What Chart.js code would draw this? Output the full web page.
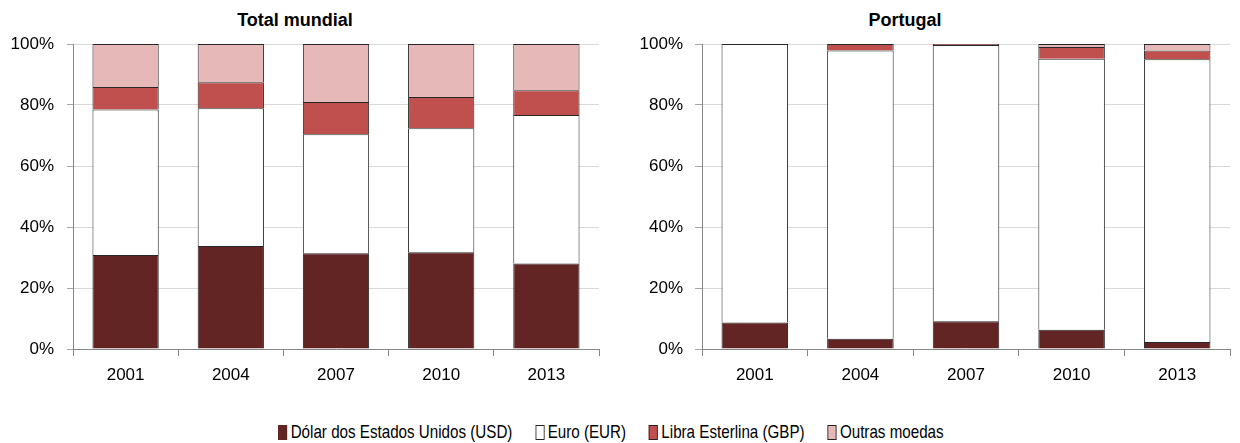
<!DOCTYPE html>
<html>
<head>
<meta charset="utf-8">
<script src="https://cdn.jsdelivr.net/npm/chart.js@4.4.1/dist/chart.umd.min.js"></script>
<style>
  body { margin: 0; background: #fff; }
  #wrap { position: relative; width: 1240px; height: 443px; background: #fff; overflow: hidden; }
  .box { position: absolute; top: 0; height: 400px; width: 620px; }
  .titulo { position: absolute; top: 10px; font: bold 18px 'Liberation Sans', Arial, sans-serif; color: #000; transform: translateX(-50%); white-space: nowrap; }
  #legenda { position: absolute; top: 421px; left: -9px; width: 1240px; display: flex; justify-content: center; font: 18.5px 'Liberation Sans', Arial, sans-serif; color: #000; transform: scaleX(0.82); transform-origin: 620px 50%; }
  #legenda span.item { display: flex; align-items: center; margin: 0 14px; white-space: nowrap; }
  #legenda i { display: inline-block; box-sizing: border-box; width: 11px; height: 15px; margin-right: 4px; border: 1.5px solid #222; }
</style>
</head>
<body>
<div id="wrap">
  <div class="titulo" style="left:295px">Total mundial</div>
  <div class="titulo" style="left:905px">Portugal</div>
  <div class="box" style="left:0"><canvas id="chartMundial"></canvas></div>
  <div class="box" style="left:620px"><canvas id="chartPortugal"></canvas></div>
  <div id="legenda"></div>
</div>
<script>
// Dados (percentagens)
const anos = ['2001', '2004', '2007', '2010', '2013'];
const ticksY = [0, 20, 40, 60, 80, 100];

const series = ['Dólar dos Estados Unidos (USD)', 'Euro (EUR)', 'Libra Esterlina (GBP)', 'Outras moedas'];
const cores = ['#632523', '#ffffff', '#c0504d', '#e6b9b8'];

// Total mundial
const mundialUSD = [30.8, 33.8, 31.4, 31.7, 28.0];
const mundialEUR = [47.7, 45.1, 39.0, 40.7, 48.7];
const mundialGBP = [7.4, 8.6, 10.6, 10.2, 8.1];
const mundialOutras = [14.1, 12.5, 19.0, 17.4, 15.2];

// Portugal
const portugalUSD = [8.7, 3.4, 9.1, 6.3, 2.3];
const portugalEUR = [91.3, 94.5, 90.6, 88.9, 92.7];
const portugalGBP = [0, 2.1, 0.3, 3.8, 2.9];
const portugalOutras = [0, 0, 0, 1.0, 2.1];

const fonte = "'Liberation Sans', Arial, sans-serif";

function criarGrafico(id, valores, larguraEixo, padDir, tickLen, padTick) {
    const ctx = document.getElementById(id).getContext('2d');
    return new Chart(ctx, {
        type: 'bar',
        data: {
            labels: anos,
            datasets: valores.map((v, i) => ({
                label: series[i],
                data: v,
                backgroundColor: cores[i],
                borderColor: '#262626',
                borderWidth: 1,
                barPercentage: 0.63,
                categoryPercentage: 1
            }))
        },
        options: {
            responsive: true,
            maintainAspectRatio: false,
            animation: false,
            layout: { padding: { top: 44, right: padDir, left: 0, bottom: 0 } },
            plugins: {
                legend: { display: false },
                tooltip: { enabled: false }
            },
            scales: {
                x: {
                    stacked: true,
                    afterFit: s => { s.height = 51; },
                    grid: { offset: true, drawOnChartArea: false, tickLength: 7, color: '#868686' },
                    border: { color: '#868686' },
                    ticks: { color: '#000', font: { family: fonte, size: 17 }, padding: 9 }
                },
                y: {
                    stacked: true,
                    min: 0,
                    max: 100,
                    afterFit: s => { s.width = larguraEixo; },
                    afterBuildTicks: s => { s.ticks = ticksY.map(v => ({ value: v })); },
                    grid: { color: '#d9d9d9', tickLength: tickLen, tickColor: '#a6a6a6' },
                    border: { color: '#868686' },
                    ticks: { color: '#000', font: { family: fonte, size: 17 }, padding: padTick, callback: v => v + '%' }
                }
            }
        }
    });
}

criarGrafico('chartMundial', [mundialUSD, mundialEUR, mundialGBP, mundialOutras], 73, 21, 6, 13);
criarGrafico('chartPortugal', [portugalUSD, portugalEUR, portugalGBP, portugalOutras], 82, 10, 7, 12);

// Legenda
const legenda = document.getElementById('legenda');
series.forEach((nome, i) => {
    const item = document.createElement('span');
    item.className = 'item';
    const marca = document.createElement('i');
    marca.style.background = cores[i];
    if (i === 0) marca.style.borderColor = cores[0];
    item.appendChild(marca);
    item.appendChild(document.createTextNode(nome));
    legenda.appendChild(item);
});
</script>
</body>
</html>
